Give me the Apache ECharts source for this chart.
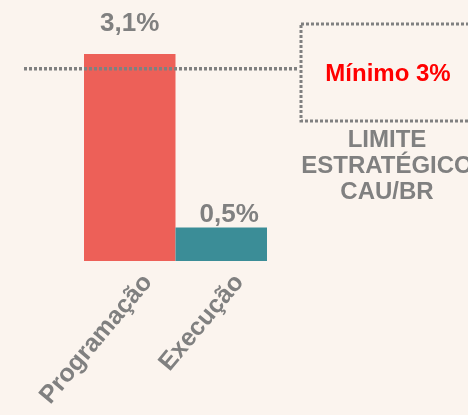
<!DOCTYPE html>
<html>
<head>
<meta charset="utf-8">
<script src="https://cdn.jsdelivr.net/npm/echarts@6/dist/echarts.min.js"></script>
<style>
  html, body { margin: 0; padding: 0; background: #FBF4EE; }
  #chart { width: 468px; height: 415px; }
</style>
</head>
<body>
<div id="chart"></div>
<script>
const categories = ['Programação', 'Execução'];
const values = [3.1, 0.5];
const valueLabels = ['3,1%', '0,5%'];
const barColors = ['#ED6058', '#3B8D97'];
const limiteValue = 2.88;
const limiteText = 'Mínimo 3%';
const limiteCaption = 'LIMITE\nESTRATÉGICO\nCAU/BR';

const gray = '#808080';
const font = '"Liberation Sans", Arial, sans-serif';

const chart = echarts.init(document.getElementById('chart'));

const option = {
  backgroundColor: '#FBF4EE',
  animation: false,
  grid: { left: 84, right: 201, top: 54, bottom: 154, outerBoundsMode: 'none', containLabel: false },
  xAxis: {
    type: 'category',
    data: categories,
    axisLine: { show: false },
    axisTick: { show: false },
    axisLabel: {
      rotate: 50,
      margin: 2,
      color: gray,
      fontFamily: font,
      fontWeight: 'bold',
      fontSize: 25,
      lineHeight: 25,
      verticalAlign: 'top',
      padding: [11, 0, 0, 0],
      interval: 0
    }
  },
  yAxis: {
    type: 'value',
    min: 0,
    max: 3.1,
    show: false
  },
  series: [{
    type: 'bar',
    barCategoryGap: 0,
    data: values.map((v, i) => ({
      value: v,
      itemStyle: { color: barColors[i] },
      label: i === 0 ? { distance: 17.5 } : { distance: 0, offset: [8, 0] }
    })),
    label: {
      show: true,
      position: 'top',
      color: gray,
      fontFamily: font,
      fontWeight: 'bold',
      fontSize: 26,
      lineHeight: 26,
      formatter: p => valueLabels[p.dataIndex]
    }
  }]
};

chart.setOption(option);

// dotted limit line + annotation box
const limY = chart.convertToPixel({ yAxisIndex: 0 }, limiteValue);
chart.setOption({
  graphic: [
    {
      type: 'line',
      shape: { x1: 24, y1: limY, x2: 298, y2: limY },
      style: { stroke: gray, lineWidth: 3.5, lineDash: [3, 2] },
      z: 10
    },
    {
      type: 'rect',
      shape: { x: 301, y: 24, width: 200, height: 97 },
      style: { fill: 'none', stroke: gray, lineWidth: 3, lineDash: [3, 2] }
    },
    {
      type: 'text',
      x: 388, y: 74,
      style: {
        text: limiteText,
        fill: '#FF0000',
        font: 'bold 24px ' + font,
        align: 'center',
        verticalAlign: 'middle'
      }
    },
    {
      type: 'text',
      x: 387, y: 166,
      style: {
        text: limiteCaption,
        fill: gray,
        font: 'bold 24px ' + font,
        lineHeight: 26,
        align: 'center',
        verticalAlign: 'middle'
      }
    }
  ]
});
</script>
</body>
</html>
